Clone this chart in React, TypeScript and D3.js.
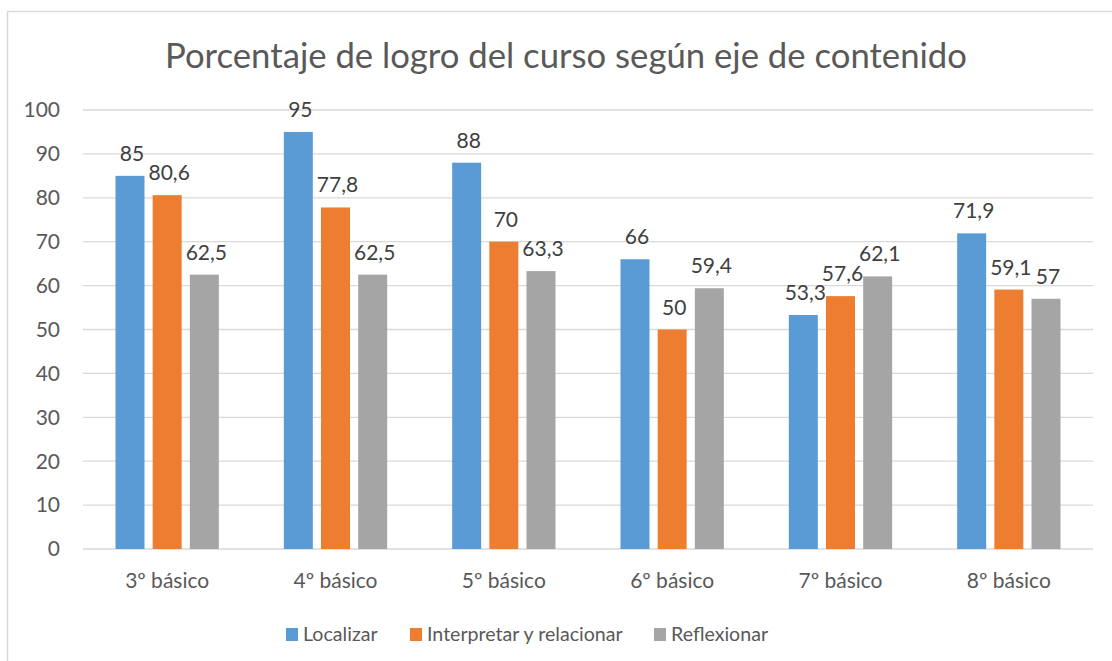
import { useEffect, useRef } from 'react';
import * as d3 from 'd3';

const categories = ['3º básico', '4º básico', '5º básico', '6º básico', '7º básico', '8º básico'];
const seriesNames = ['Localizar', 'Interpretar y relacionar', 'Reflexionar'];
const localizar = [85, 95, 88, 66, 53.3, 71.9];
const interpretar = [80.6, 77.8, 70, 50, 57.6, 59.1];
const reflexionar = [62.5, 62.5, 63.3, 59.4, 62.1, 57];
const yTicks = [0, 10, 20, 30, 40, 50, 60, 70, 80, 90, 100];
const colors = ['#5B9BD5', '#ED7D31', '#A5A5A5'];

const FONT = 'Lato, "Open Sans", sans-serif';

const App = () => {
  const svgRef = useRef<SVGSVGElement>(null);

  useEffect(() => {
    if (!svgRef.current) return;
    const W = 1112;
    const H = 661;
    const margin = { top: 110, right: 19, bottom: 112, left: 83 };
    const width = W - margin.left - margin.right;
    const height = H - margin.top - margin.bottom;

    const root = d3.select(svgRef.current);
    root.selectAll('*').remove();
    root.attr('width', W).attr('height', H);

    // chart frame
    root.append('rect')
      .attr('x', 7.5).attr('y', 11.5)
      .attr('width', W + 10).attr('height', H + 10)
      .attr('fill', '#fff')
      .attr('stroke', '#D9D9D9')
      .attr('stroke-width', 1.5);

    root.append('text')
      .attr('x', 566)
      .attr('y', 68)
      .attr('text-anchor', 'middle')
      .style('font-family', FONT)
      .style('font-size', '34.7px')
      .style('fill', '#595959')
      .text('Porcentaje de logro del curso según eje de contenido');

    const svg = root.append('g').attr('transform', `translate(${margin.left},${margin.top})`);

    const x0 = d3.scaleBand().domain(categories).range([0, width]).paddingInner(0).paddingOuter(0);
    const x1 = d3.scaleBand().domain(seriesNames).range([32.5, x0.bandwidth() - 32.5]).paddingInner(0.22);
    const y = d3.scaleLinear().domain([0, 100]).range([height, 0]);

    svg.append('g')
      .selectAll('line')
      .data(yTicks)
      .enter()
      .append('line')
      .attr('x1', 0).attr('x2', width)
      .attr('y1', d => y(d)).attr('y2', d => y(d))
      .attr('stroke', '#D9D9D9')
      .attr('stroke-width', 1.3);

    svg.append('g')
      .selectAll('text')
      .data(yTicks)
      .enter()
      .append('text')
      .attr('x', -23)
      .attr('y', d => y(d))
      .attr('dy', '0.35em')
      .attr('text-anchor', 'end')
      .style('font-family', FONT)
      .style('font-size', '21px')
      .style('fill', '#595959')
      .text(d => d);

    const series = [localizar, interpretar, reflexionar];
    const rows = categories.flatMap((c, i) =>
      series.map((s, j) => ({ cat: c, name: seriesNames[j], value: s[i], color: colors[j] }))
    );

    const fmt = (v: number) => String(v).replace('.', ',');

    svg.append('g')
      .selectAll('rect')
      .data(rows)
      .enter()
      .append('rect')
      .attr('x', d => (x0(d.cat) ?? 0) + (x1(d.name) ?? 0))
      .attr('y', d => y(d.value))
      .attr('width', x1.bandwidth())
      .attr('height', d => height - y(d.value))
      .attr('fill', d => d.color);

    svg.append('g')
      .selectAll('text')
      .data(rows)
      .enter()
      .append('text')
      .attr('x', d => (x0(d.cat) ?? 0) + (x1(d.name) ?? 0) + x1.bandwidth() / 2 + 2)
      .attr('y', d => y(d.value) - 15)
      .attr('text-anchor', 'middle')
      .style('font-family', FONT)
      .style('font-size', '21px')
      .style('fill', '#404040')
      .text(d => fmt(d.value));

    svg.append('g')
      .selectAll('text')
      .data(categories)
      .enter()
      .append('text')
      .attr('x', d => (x0(d) ?? 0) + x0.bandwidth() / 2)
      .attr('y', height + 39)
      .attr('text-anchor', 'middle')
      .style('font-family', FONT)
      .style('font-size', '21px')
      .style('fill', '#595959')
      .text(d => d);

    // legend
    const legendX = [286, 410, 654];
    const legend = root.append('g')
      .selectAll('g')
      .data(seriesNames)
      .enter()
      .append('g')
      .attr('transform', (_, i) => `translate(${legendX[i]},628)`);
    legend.append('rect')
      .attr('width', 12).attr('height', 13)
      .attr('fill', (_, i) => colors[i]);
    legend.append('text')
      .attr('x', 17)
      .attr('y', 13)
      .style('font-family', FONT)
      .style('font-size', '19.6px')
      .style('fill', '#595959')
      .text(d => d);
  }, []);

  return <svg ref={svgRef} style={{ position: 'absolute', left: 0, top: 0 }}></svg>;
};

export default App;
